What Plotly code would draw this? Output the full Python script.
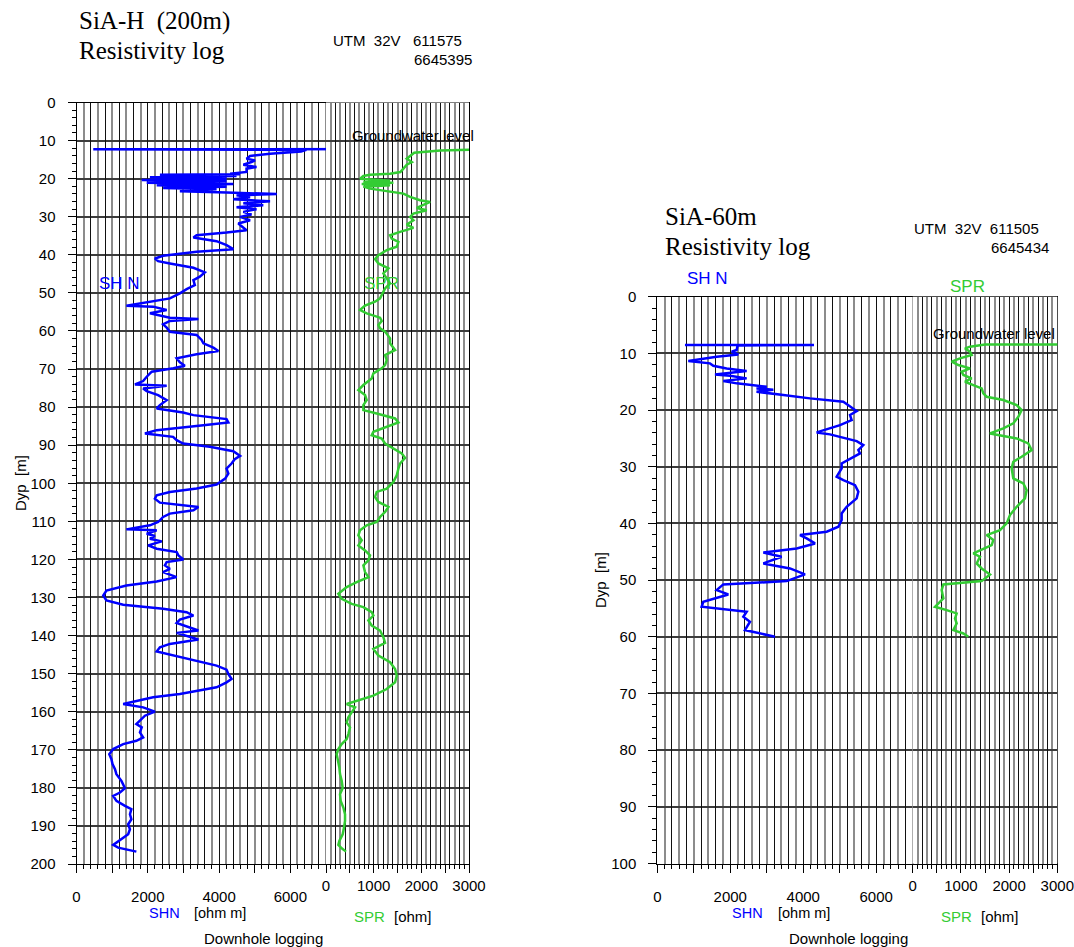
import plotly.graph_objects as go

# ---------------- SiA-H (200 m) borehole ----------------
shn_h_depth = [12.2, 12.3, 12.45, 12.84, 13.45, 14.06, 14.76, 15.2, 15.63, 16.33, 16.94, 17.38, 18.25,
               18.69, 18.86, 18.95, 19.3, 19.65, 20.0, 20.35, 20.7, 21.05, 21.4, 21.75, 22.1, 22.45,
               22.79, 23.32, 23.67, 24.02, 24.37, 24.89, 25.41, 25.94, 26.46, 26.99, 27.51, 28.03,
               28.73, 29.43, 30.04, 30.92, 31.79, 32.93, 33.54, 34.15, 34.85, 35.46, 36.42, 37.47,
               38.52, 39.21, 40.26, 40.96, 41.66, 42.27, 43.41, 44.63, 45.76, 46.64, 47.95, 49.0,
               50.13, 51.44, 52.31, 53.36, 53.62, 54.5, 55.37, 56.51, 56.86, 57.38, 58.25, 59.13,
               60.2, 61.05, 62.37, 63.25, 64.39, 65.26, 66.14, 67.19, 68.25, 69.12, 69.82, 70.7,
               72.02, 73.16, 74.04, 74.39, 75.09, 75.79, 76.84, 78.16, 79.47, 80.35, 81.4, 82.11,
               83.16, 84.04, 84.74, 86.05, 86.93, 87.81, 88.68, 89.56, 90.44, 91.58, 92.81, 93.68,
               94.82, 96.14, 97.46, 98.77, 100.35, 101.4, 102.28, 103.16, 104.04, 105.09, 106.23,
               107.11, 107.98, 108.86, 110.18, 111.05, 112.11, 112.37, 113.25, 113.86, 114.56,
               115.26, 116.32, 117.19, 118.07, 118.95, 120.0, 120.7, 121.58, 122.46, 123.33, 124.65,
               125.79, 126.84, 128.16, 129.47, 130.79, 131.93, 132.98, 133.86, 134.74, 135.79,
               136.67, 137.54, 138.68, 139.3, 140.18, 141.05, 142.19, 143.07, 144.21, 145.26,
               146.58, 147.89, 148.95, 150.09, 151.4, 152.28, 153.6, 154.47, 155.35, 156.23, 157.11,
               157.98, 158.86, 159.74, 160.0, 161.05, 162.37, 163.25, 164.12, 165.44, 166.75,
               167.63, 168.51, 169.82, 171.14, 172.46, 173.77, 175.09, 176.4, 178.16, 180.09,
               181.23, 182.11, 183.42, 184.74, 185.61, 186.93, 188.25, 189.56, 190.88, 192.19,
               193.51, 195.0, 195.7, 196.75]
shn_h = [10950, 470, 6450, 6300, 5430, 4870, 4770, 5010, 4910, 4680, 5050, 4770, 4770,
         4310, 4590, 2340, 4490, 2060, 4210, 1830, 4210, 1970, 4400, 2250, 4210, 2430,
         3930, 2900, 4210, 5620, 4490, 4870, 4400, 5430, 4680, 5240, 4490, 5050,
         4680, 4910, 4590, 4870, 4540, 4680, 4770, 4210, 3370, 3280, 3930, 4210,
         4400, 3370, 2430, 2200, 2290, 2620, 3280, 3600, 3460, 3280, 3320, 3090,
         2900, 2620, 2060, 1400, 2150, 2530, 2060, 2620, 3420, 2620, 2430, 2530,
         2620, 3370, 3510, 3560, 3840, 3980, 3370, 2810, 2900, 3040, 2720, 2110,
         1970, 1870, 1640, 2530, 1870, 1970, 2290, 2530, 2340, 2250, 2990, 3280,
         4210, 4260, 3560, 2250, 1920, 2710, 2810, 2990, 3740, 4400, 4590, 4440,
         4350, 4210, 4260, 4170, 3930, 3370, 2620, 2250, 2200, 2340, 3420,
         3280, 2620, 2430, 2290, 2060, 1400, 2250, 1970, 2200, 2060,
         2390, 2010, 2250, 2810, 2860, 3000, 2530, 2480, 2620, 2430, 2810,
         2250, 1400, 840, 750, 840, 1310, 2430, 3090, 3280, 2900,
         2810, 3090, 3420, 2810, 3090, 3420, 2620, 2340, 2250, 2710,
         3370, 3930, 4210, 4260, 4350, 4210, 3930, 3460, 2900, 2150, 1680,
         1310, 1870, 2100, 2200, 1920, 1780, 1680, 1830, 1780, 1870,
         1680, 1310, 1030, 920, 980, 1010, 1080, 1120, 1260, 1360,
         1220, 1030, 1120, 1360, 1540, 1500, 1540, 1450, 1500, 1450,
         1260, 1030, 1170, 1680]

spr_h_depth = [12.3, 12.6, 13.2, 14.06, 14.76, 15.63, 16.33, 17.38, 18.25, 18.69, 18.95, 19.3, 20.0,
               20.52, 20.87, 21.05, 21.4, 21.75, 22.1, 22.62, 23.32, 23.93, 24.8, 25.68, 26.11,
               26.99, 27.69, 28.3, 29.17, 30.04, 30.92, 32.05, 32.93, 33.97, 34.85, 35.72, 36.59,
               37.9, 38.78, 40.09, 41.14, 42.27, 43.58, 44.89, 46.2, 47.51, 48.82, 50.39, 51.44,
               52.31, 53.36, 54.5, 55.37, 56.51, 57.38, 58.43, 59.3, 60.17, 61.93, 63.25, 65.0,
               66.32, 67.63, 68.95, 69.82, 71.14, 72.46, 74.21, 75.53, 76.84, 78.16, 79.47, 80.79,
               81.67, 82.98, 84.04, 85.18, 86.49, 87.37, 88.25, 89.56, 90.88, 92.19, 93.33, 94.82,
               96.14, 97.89, 99.65, 101.4, 102.28, 103.6, 104.91, 106.23, 107.54, 108.86, 110.18,
               111.05, 112.37, 113.68, 115.0, 116.32, 117.63, 118.95, 120.26, 121.58, 123.33,
               124.65, 125.96, 127.28, 129.04, 130.35, 131.67, 132.54, 133.86, 134.74, 136.05,
               137.37, 138.68, 140.44, 141.93, 143.51, 145.26, 147.02, 148.77, 150.53, 152.28,
               154.04, 155.79, 157.11, 157.98, 158.86, 160.18, 161.49, 162.81, 164.12, 165.88,
               167.19, 168.51, 169.82, 171.14, 172.89, 174.65, 176.4, 178.16, 180.09, 181.67,
               183.42, 185.18, 186.93, 188.68, 190.44, 192.19, 193.95, 195.0, 195.88, 196.75]
spr_h = [3234, 2400, 1850, 1764, 1694, 1800, 1694, 1624, 1560, 1344, 924, 784, 714,
         1344, 784, 1414, 749, 1344, 784, 924, 1344, 1624, 1764, 1974, 2184,
         2044, 1904, 2114, 1834, 1764, 1834, 1694, 1834, 1554, 1344, 1379, 1519,
         1484, 1274, 1099, 1029, 1099, 1309, 1204, 1274, 1344, 1239, 1169, 1134,
         1029, 819, 714, 854, 1134, 1169, 1099, 1134, 1239, 1344, 1344, 1449,
         1239, 1274, 1239, 1169, 994, 959, 784, 679, 819, 854, 784, 784,
         1064, 1449, 1519, 1274, 994, 959, 1169, 1239, 1414, 1589, 1659, 1554,
         1519, 1484, 1414, 1274, 1064, 1029, 1099, 1309, 1239, 1134, 1064,
         854, 714, 679, 749, 679, 819, 924, 889, 784, 819,
         889, 644, 434, 259, 329, 539, 784, 959, 994, 889,
         959, 1134, 1204, 1239, 994, 1099, 1344, 1449, 1484, 1449,
         1274, 994, 644, 434, 609, 539, 469, 434, 504, 469,
         434, 329, 259, 224, 259, 280, 294, 329, 350, 294,
         308, 364, 399, 399, 378, 350, 280, 259, 329, 420]

# ---------------- SiA-60m borehole ----------------
shn_60_depth = [8.5, 8.5, 8.6, 9.41, 9.71, 10.18, 10.59, 11.35, 11.76, 12.18, 12.65, 13.12, 13.71,
                13.94, 14.41, 14.88, 15.29, 15.88, 16.18, 16.4, 16.76, 17.35, 17.94, 18.53, 19.41,
                20.18, 20.88, 21.76, 22.65, 23.94, 24.29, 25.47, 26.18, 27.06, 27.65, 28.53, 29.41,
                30.29, 31.76, 32.35, 33.24, 34.41, 35.59, 37.06, 38.24, 39.41, 40.59, 41.47, 42.06,
                42.65, 43.53, 44.41, 45.12, 45.88, 47.06, 47.94, 49.0, 50.18, 50.76, 51.76, 52.53,
                53.82, 54.71, 55.59, 56.47, 57.35, 58.82, 60.0]
shn_60 = [758, 4295, 2200, 2175, 2038, 2220, 1627, 850, 1444, 1535, 1901, 2449, 1581,
          1992, 2449, 1809, 2175, 3000, 2720, 3180, 2720, 3454, 4185, 5099, 5282,
          5464, 5282, 5327, 5008, 4368, 4733, 5464, 5647, 5510, 5556, 5282, 5053,
          5053, 4916, 5099, 5419, 5510, 5464, 5190, 5053, 5053, 4962, 4642, 3911,
          4094, 4322, 3820, 2906, 3408, 2906, 3637, 4048, 3545, 1809, 1627, 1946,
          1261, 1215, 2449, 2358, 2540, 2403, 3226]

spr_60_depth = [8.41, 8.45, 8.82, 9.12, 9.71, 10.29, 10.88, 11.47, 12.06, 12.65, 13.24, 13.82, 14.41,
                15.0, 15.59, 16.18, 17.06, 17.65, 18.24, 19.12, 20.0, 21.18, 22.35, 23.24, 24.12,
                25.0, 25.88, 27.06, 28.24, 29.12, 30.29, 32.06, 32.94, 34.12, 35.59, 37.06, 38.53,
                40.0, 41.18, 42.06, 42.94, 43.82, 45.29, 45.88, 47.06, 47.94, 49.0, 50.18, 50.76,
                51.76, 53.24, 54.71, 55.29, 55.88, 56.76, 57.65, 58.82, 59.41, 60.0]
spr_60 = [3332, 1500, 1189, 1085, 1189, 1223, 981, 809, 947, 1189, 1016, 1051, 1223,
          1085, 1258, 1431, 1465, 1534, 1880, 2157, 2260, 2191, 2087, 1880, 1604,
          2157, 2398, 2468, 2260, 2087, 2053, 2087, 2295, 2364, 2329, 2157, 2018,
          1949, 1811, 1534, 1673, 1638, 1258, 1396, 1327, 1431, 1604, 1431, 636,
          601, 636, 463, 705, 912, 878, 912, 843, 1051, 1154]

# ---------------- axis ticks ----------------
shn_tick_vals = [0, 1000, 2000, 3000, 4000, 5000, 6000, 7000]
shn_tick_text = ["0", "", "2000", "", "4000", "", "6000", ""]
spr_tick_vals = [0, 500, 1000, 1500, 2000, 2500, 3000]
spr_tick_text = ["0", "", "1000", "", "2000", "", "3000"]
SHN_MAX, SPR_MAX = 7000, 3000

W, H = 1074, 947
SANS = "Arial, Liberation Sans, sans-serif"
SERIF = "Times New Roman, Liberation Serif, serif"
BLUE = "#0000ff"
GREEN = "#33cc33"


def fx(px):
    return px / W


def fy(py):
    return 1 - py / H


# pixel frames of the two log panels: left edge, SPR start, right edge, top, bottom, max depth
panels = [
    dict(x0=76.5, xs=326.0, x1=469.0, top=102.5, bot=864.0, dmax=200,
         shn_d=shn_h_depth, shn=shn_h, spr_d=spr_h_depth, spr=spr_h),
    dict(x0=657.3, xs=912.7, x1=1057.3, top=296.7, bot=863.5, dmax=100,
         shn_d=shn_60_depth, shn=shn_60, spr_d=spr_60_depth, spr=spr_60),
]

tickfont = dict(family=SANS, size=15, color="black")
shn_minor = [v for v in range(0, SHN_MAX + 1, 200) if v % 1000]
spr_minor = [v for v in range(0, SPR_MAX + 1, 100) if v % 500]

fig = go.Figure()
layout_axes = {}


def axis_key(name):
    return "xaxis" + name[1:] if name.startswith("x") else "yaxis" + name[1:]


for i, p in enumerate(panels):
    n = i * 2
    xa, xb = ("x", "x2") if i == 0 else ("x3", "x4")
    ya = "y" if i == 0 else "y2"
    gx_a, gx_b = f"x{5 + n}", f"x{6 + n}"
    # SHN axis spans the whole panel so that readings above 7000 continue across
    shn_top = SHN_MAX * (p["x1"] - p["x0"]) / (p["xs"] - p["x0"])

    layout_axes[axis_key(xa)] = dict(
        domain=[fx(p["x0"]), fx(p["x1"])], range=[0, shn_top], anchor=ya,
        tickmode="array", tickvals=shn_tick_vals, ticktext=shn_tick_text,
        ticks="outside", ticklen=8, tickwidth=1, tickcolor="black",
        ticklabelstandoff=11, tickfont=tickfont,
        minor=dict(tickmode="array", tickvals=shn_minor, ticks="outside",
                   ticklen=4, tickwidth=1, tickcolor="black", showgrid=False),
        showgrid=False, zeroline=False, showline=True, mirror=True,
        linecolor="black", linewidth=1, automargin=False, fixedrange=True)
    layout_axes[axis_key(xb)] = dict(
        domain=[fx(p["xs"]), fx(p["x1"])], range=[0, SPR_MAX], anchor=ya,
        tickmode="array", tickvals=spr_tick_vals, ticktext=spr_tick_text,
        ticks="outside", ticklen=8, tickwidth=1, tickcolor="black",
        ticklabelstandoff=0, tickfont=tickfont,
        minor=dict(tickmode="array", tickvals=spr_minor, ticks="outside",
                   ticklen=4, tickwidth=1, tickcolor="black", showgrid=False),
        showgrid=False, zeroline=False, showline=False, automargin=False,
        fixedrange=True)
    # grid-only overlays: alternating dark and light vertical rulings
    layout_axes[axis_key(gx_a)] = dict(
        overlaying=xa, anchor=ya, range=[0, shn_top], showticklabels=False,
        ticks="", tickmode="array", tickvals=list(range(0, SHN_MAX + 1, 400)),
        showgrid=True, gridcolor="#111111", gridwidth=1,
        minor=dict(tickmode="array", tickvals=list(range(200, SHN_MAX + 1, 400)),
                   ticks="", showgrid=True, gridcolor="#8c8c8c", gridwidth=2),
        zeroline=False, showline=False, automargin=False, fixedrange=True)
    layout_axes[axis_key(gx_b)] = dict(
        overlaying=xb, anchor=ya, range=[0, SPR_MAX], showticklabels=False,
        ticks="", tickmode="array", tickvals=list(range(0, SPR_MAX + 1, 200)),
        showgrid=True, gridcolor="#111111", gridwidth=1,
        minor=dict(tickmode="array", tickvals=list(range(100, SPR_MAX, 200)),
                   ticks="", showgrid=True, gridcolor="#8c8c8c", gridwidth=2),
        zeroline=False, showline=False, automargin=False, fixedrange=True)
    layout_axes[axis_key(ya)] = dict(
        domain=[fy(p["bot"]), fy(p["top"])], range=[p["dmax"], 0], anchor=xa,
        tickmode="array", tickvals=list(range(0, p["dmax"] + 1, 10)),
        ticks="outside", ticklen=8, tickwidth=1, tickcolor="black",
        ticklabelstandoff=9, tickfont=tickfont,
        minor=dict(tickmode="array",
                   tickvals=[d for d in range(0, p["dmax"] + 1, 2) if d % 10],
                   ticks="outside", ticklen=4, tickwidth=1, tickcolor="black",
                   showgrid=False),
        showgrid=True, gridcolor="#3c3c3c", gridwidth=2,
        zeroline=False, showline=True, mirror=True, linecolor="black",
        linewidth=1, automargin=False, fixedrange=True)

    # empty traces so the grid overlays become real subplots
    for gx in (gx_a, gx_b):
        fig.add_trace(go.Scatter(x=[], y=[], xaxis=gx, yaxis=ya, mode="lines",
                                 hoverinfo="skip", showlegend=False))

    fig.add_trace(go.Scatter(x=p["shn"], y=p["shn_d"], xaxis=xa, yaxis=ya,
                             mode="lines", line=dict(color=BLUE, width=2.5),
                             hoverinfo="skip", showlegend=False))
    fig.add_trace(go.Scatter(x=p["spr"], y=p["spr_d"], xaxis=xb, yaxis=ya,
                             mode="lines", line=dict(color=GREEN, width=2.5),
                             hoverinfo="skip", showlegend=False))


def note(text, x, y, size=15, color="black", family=SANS, xanchor="center",
         angle=0):
    return dict(text=text, x=fx(x), y=fy(y), xref="paper", yref="paper",
                xanchor=xanchor, yanchor="middle", showarrow=False, borderpad=0,
                textangle=angle, font=dict(family=family, size=size, color=color))


NB = "\u00a0"
annotations = [
    # SiA-H header
    note(f"SiA-H{NB}{NB}(200m)", 78, 21, size=25, family=SERIF, xanchor="left"),
    note("Resistivity log", 78, 50, size=25, family=SERIF, xanchor="left"),
    note(f"UTM{NB}{NB}32V{NB}{NB}{NB}611575", 332, 40.5, xanchor="left"),
    note("6645395", 413, 60, xanchor="left"),
    note("SH N", 120, 283.5, size=17, color=BLUE),
    note("SPR", 381, 283.5, size=17, color=GREEN),
    note("Groundwater level", 412.5, 135),
    note(f"Dyp{NB}{NB}[m]", 20, 483, angle=-90),
    note("SHN", 164, 912.5, size=14.5, color=BLUE),
    note("[ohm m]", 220, 912.5, size=14.5),
    note("SPR", 369.5, 916, color=GREEN),
    note("[ohm]", 412.5, 916),
    note("Downhole logging", 263, 938.5),
    # SiA-60m header
    note("SiA-60m", 664, 217, size=25, family=SERIF, xanchor="left"),
    note("Resistivity log", 664, 246, size=25, family=SERIF, xanchor="left"),
    note(f"UTM{NB}{NB}32V{NB}{NB}611505", 913, 228.5, xanchor="left"),
    note("6645434", 990, 247.5, xanchor="left"),
    note("SH N", 707.5, 278.5, size=17, color=BLUE),
    note("SPR", 967, 286.5, size=17, color=GREEN),
    note("Groundwater level", 993.5, 333.5),
    note(f"Dyp{NB}{NB}[m]", 600, 580, angle=-90),
    note("SHN", 747.5, 912.5, size=14.5, color=BLUE),
    note("[ohm m]", 804, 912.5, size=14.5),
    note("SPR", 956, 916, color=GREEN),
    note("[ohm]", 1000, 916),
    note("Downhole logging", 848, 938.5),
]

fig.update_layout(
    template="none",
    width=W, height=H,
    margin=dict(l=0, r=0, t=0, b=0, pad=0, autoexpand=False),
    paper_bgcolor="white", plot_bgcolor="white",
    font=dict(family=SANS, size=15, color="black"),
    annotations=annotations, showlegend=False, hovermode=False,
    **layout_axes,
)

fig.write_html("out.html", config={"displayModeBar": False, "staticPlot": True})
